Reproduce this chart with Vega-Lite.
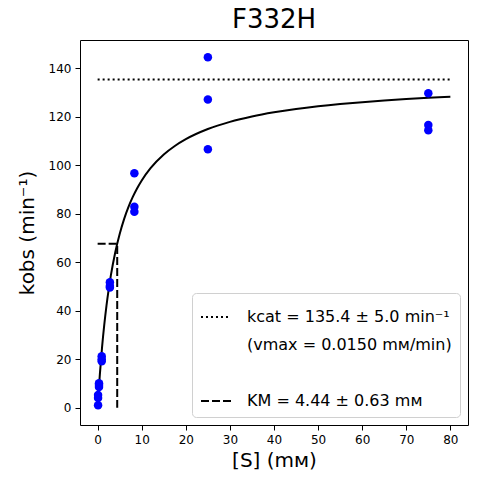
{
  "$schema": "https://vega.github.io/schema/vega-lite/v6.json",
  "description": "Michaelis-Menten fit for F332H.",
  "width": 388,
  "height": 385,
  "autosize": "none",
  "padding": {"left": 80, "top": 40, "right": 9, "bottom": 59},
  "background": "white",
  "title": {
    "text": "F332H",
    "fontSize": 26,
    "fontWeight": "normal",
    "color": "black",
    "offset": 7
  },
  "datasets": {
    "pts": [
      {"s": 0.103, "k": 5.3}, {"s": 0.103, "k": 4.0}, {"s": 0.103, "k": 1.0},
      {"s": 0.309, "k": 10.1}, {"s": 0.309, "k": 9.4}, {"s": 0.309, "k": 8.6},
      {"s": 0.926, "k": 21.3}, {"s": 0.926, "k": 20.0}, {"s": 0.926, "k": 19.2},
      {"s": 2.78, "k": 51.8}, {"s": 2.78, "k": 50.2}, {"s": 2.78, "k": 49.6},
      {"s": 8.33, "k": 96.7}, {"s": 8.33, "k": 82.9}, {"s": 8.33, "k": 80.9},
      {"s": 25, "k": 144.6}, {"s": 25, "k": 127.2}, {"s": 25, "k": 106.6},
      {"s": 75, "k": 129.7}, {"s": 75, "k": 116.6}, {"s": 75, "k": 114.5}
    ],
    "fit": [
      {"s": 0, "k": 0}, {"s": 0.25, "k": 7.22}, {"s": 0.5, "k": 13.70},
      {"s": 1, "k": 24.89}, {"s": 1.5, "k": 34.19}, {"s": 2, "k": 42.05},
      {"s": 2.5, "k": 48.78}, {"s": 3, "k": 54.60}, {"s": 4, "k": 64.17},
      {"s": 5, "k": 71.72}, {"s": 6, "k": 77.82}, {"s": 7, "k": 82.85},
      {"s": 8, "k": 87.07}, {"s": 9, "k": 90.67}, {"s": 10, "k": 93.77},
      {"s": 12, "k": 98.83}, {"s": 15, "k": 104.48}, {"s": 17.5, "k": 108.0},
      {"s": 20, "k": 110.80}, {"s": 25, "k": 114.98}, {"s": 30, "k": 117.94},
      {"s": 35, "k": 120.16}, {"s": 40, "k": 121.87}, {"s": 45, "k": 123.24},
      {"s": 50, "k": 124.36}, {"s": 55, "k": 125.29}, {"s": 60, "k": 126.07},
      {"s": 65, "k": 126.74}, {"s": 70, "k": 127.32}, {"s": 75, "k": 127.83},
      {"s": 80, "k": 128.28}
    ],
    "ref": [
      {"series": "kcat", "o": 1, "s": 0, "k": 135.4},
      {"series": "kcat", "o": 2, "s": 80, "k": 135.4},
      {"series": "KM", "o": 1, "s": 0, "k": 67.7},
      {"series": "KM", "o": 2, "s": 4.44, "k": 67.7},
      {"series": "KM", "o": 3, "s": 4.44, "k": 0}
    ]
  },
  "encoding": {
    "x": {
      "field": "s",
      "type": "quantitative",
      "title": "[S] (mᴍ)",
      "scale": {"domain": [-4, 84], "nice": false, "zero": false},
      "axis": {"values": [0, 10, 20, 30, 40, 50, 60, 70, 80], "titlePadding": 5}
    },
    "y": {
      "field": "k",
      "type": "quantitative",
      "title": "kobs (min⁻¹)",
      "scale": {"domain": [-7.1, 151.7], "nice": false, "zero": false},
      "axis": {"values": [0, 20, 40, 60, 80, 100, 120, 140], "titlePadding": 11}
    }
  },
  "layer": [
    {
      "data": {"name": "ref"},
      "mark": {"type": "line", "color": "black", "strokeWidth": 2},
      "encoding": {
        "order": {"field": "o", "type": "quantitative"},
        "strokeDash": {
          "field": "series",
          "type": "nominal",
          "scale": {
            "domain": ["kcat", "vmax", "blank", "KM"],
            "range": [[2, 3], [0, 100], [0, 100], [8, 3]]
          },
          "legend": {
            "orient": "bottom-right",
            "offset": 8,
            "title": null,
            "labelExpr": "datum.value == 'kcat' ? 'kcat = 135.4 ± 5.0 min⁻¹' : datum.value == 'vmax' ? '(vmax = 0.0150 mᴍ/min)' : datum.value == 'KM' ? 'KM = 4.44 ± 0.63 mᴍ' : ''",
            "symbolType": "stroke",
            "symbolSize": 900,
            "symbolStrokeWidth": 2,
            "symbolStrokeColor": "black",
            "labelFontSize": 16,
            "labelColor": "black",
            "labelLimit": 400,
            "labelOffset": 15,
            "rowPadding": 4,
            "padding": 8,
            "strokeColor": "#d0d0d0",
            "fillColor": "white",
            "cornerRadius": 4
          }
        }
      }
    },
    {
      "data": {"name": "fit"},
      "mark": {"type": "line", "color": "black", "strokeWidth": 2, "interpolate": "monotone"},
      "encoding": {}
    },
    {
      "data": {"name": "pts"},
      "mark": {"type": "circle", "color": "#0000ff", "size": 72, "opacity": 1}
    }
  ],
  "config": {
    "font": "DejaVu Sans",
    "view": {"stroke": "black", "strokeWidth": 1},
    "axis": {
      "domain": false,
      "grid": false,
      "ticks": true,
      "tickColor": "black",
      "tickSize": 5,
      "tickWidth": 1,
      "labelFontSize": 12,
      "labelColor": "black",
      "labelPadding": 4,
      "titleFontSize": 20,
      "titleFontWeight": "normal",
      "titleColor": "black"
    }
  }
}
